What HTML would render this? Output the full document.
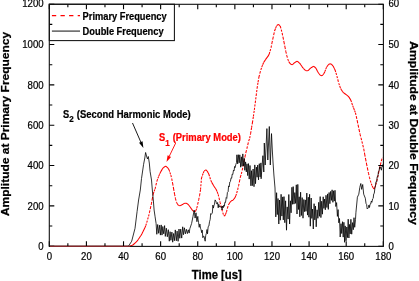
<!DOCTYPE html>
<html><head><meta charset="utf-8"><style>
html,body{margin:0;padding:0;background:#fff;width:419px;height:281px;overflow:hidden}
svg{display:block;will-change:transform}
text{font-family:"Liberation Sans",sans-serif}
</style></head><body>
<svg width="419" height="281" viewBox="0 0 419 281">
<rect width="419" height="281" fill="#fff"/>
<g font-size="9.6" fill="#000" stroke="#000" stroke-width="0.2">
<text transform="translate(49.30 260.20) scale(1 1.1)" text-anchor="middle">0</text><text transform="translate(86.41 260.20) scale(1 1.1)" text-anchor="middle">20</text><text transform="translate(123.52 260.20) scale(1 1.1)" text-anchor="middle">40</text><text transform="translate(160.63 260.20) scale(1 1.1)" text-anchor="middle">60</text><text transform="translate(197.74 260.20) scale(1 1.1)" text-anchor="middle">80</text><text transform="translate(234.86 260.20) scale(1 1.1)" text-anchor="middle">100</text><text transform="translate(271.97 260.20) scale(1 1.1)" text-anchor="middle">120</text><text transform="translate(309.08 260.20) scale(1 1.1)" text-anchor="middle">140</text><text transform="translate(346.19 260.20) scale(1 1.1)" text-anchor="middle">160</text><text transform="translate(383.30 260.20) scale(1 1.1)" text-anchor="middle">180</text><text transform="translate(43.60 250.10) scale(1 1.1)" text-anchor="end">0</text><text transform="translate(43.60 209.77) scale(1 1.1)" text-anchor="end">200</text><text transform="translate(43.60 169.43) scale(1 1.1)" text-anchor="end">400</text><text transform="translate(43.60 129.10) scale(1 1.1)" text-anchor="end">600</text><text transform="translate(43.60 88.77) scale(1 1.1)" text-anchor="end">800</text><text transform="translate(43.60 48.43) scale(1 1.1)" text-anchor="end">1000</text><text transform="translate(43.60 7.40) scale(1 1.1)" text-anchor="end">1200</text><text transform="translate(388.50 250.10) scale(1 1.1)">0</text><text transform="translate(388.50 209.77) scale(1 1.1)">10</text><text transform="translate(388.50 169.43) scale(1 1.1)">20</text><text transform="translate(388.50 129.10) scale(1 1.1)">30</text><text transform="translate(388.50 88.77) scale(1 1.1)">40</text><text transform="translate(388.50 48.43) scale(1 1.1)">50</text><text transform="translate(388.50 7.40) scale(1 1.1)">60</text>
</g>
<g font-weight="bold" font-size="12" fill="#000" stroke="#000" stroke-width="0.25">
<text transform="translate(8.5 124.0) rotate(-90) scale(1.07 1)" text-anchor="middle" font-size="11.2">Amplitude at Primary Frequency</text>
<text transform="translate(410.2 133) rotate(90) scale(1.08 1)" text-anchor="middle" font-size="11.3">Amplitude at Double Frequency</text>
<text transform="translate(216.80 278.60) scale(1 1.08)" text-anchor="middle" font-size="11.3">Time [us]</text>
</g>
<path d="M49.30 246.20L50.23 246.20M50.23 246.20L51.16 246.20M51.16 246.20L52.08 246.20M52.08 246.20L53.01 246.20M53.01 246.20L53.94 246.20M53.94 246.20L54.87 246.20M54.87 246.20L55.79 246.20M55.79 246.20L56.72 246.20M56.72 246.20L57.65 246.20M57.65 246.20L58.58 246.20M58.58 246.20L59.51 246.20M59.51 246.20L60.43 246.20M60.43 246.20L61.36 246.20M61.36 246.20L62.29 246.20M62.29 246.20L63.22 246.20M63.22 246.20L64.14 246.20M64.14 246.20L65.07 246.20M65.07 246.20L66.00 246.20M66.00 246.20L66.93 246.20M66.93 246.20L67.86 246.20M67.86 246.20L68.78 246.20M68.78 246.20L69.71 246.20M69.71 246.20L70.64 246.20M70.64 246.20L71.57 246.20M71.57 246.20L72.49 246.20M72.49 246.20L73.42 246.20M73.42 246.20L74.35 246.20M74.35 246.20L75.28 246.20M75.28 246.20L76.21 246.20M76.21 246.20L77.13 246.20M77.13 246.20L78.06 246.20M78.06 246.20L78.99 246.20M78.99 246.20L79.92 246.20M79.92 246.20L80.84 246.20M80.84 246.20L81.77 246.20M81.77 246.20L82.70 246.20M82.70 246.20L83.63 246.20M83.63 246.20L84.56 246.20M84.56 246.20L85.48 246.20M85.48 246.20L86.41 246.20M86.41 246.20L87.34 246.20M87.34 246.20L88.27 246.20M88.27 246.20L89.19 246.20M89.19 246.20L90.12 246.20M90.12 246.20L91.05 246.20M91.05 246.20L91.98 246.20M91.98 246.20L92.91 246.20M92.91 246.20L93.83 246.20M93.83 246.20L94.76 246.20M94.76 246.20L95.69 246.20M95.69 246.20L96.62 246.20M96.62 246.20L97.54 246.20M97.54 246.20L98.47 246.20M98.47 246.20L99.40 246.20M99.40 246.20L100.33 246.20M100.33 246.20L101.26 246.20M101.26 246.20L102.18 246.20M102.18 246.20L103.11 246.20M103.11 246.20L104.04 246.20M104.04 246.20L104.97 246.20M104.97 246.20L105.89 246.20M105.89 246.20L106.82 246.20M106.82 246.20L107.75 246.20M107.75 246.20L108.68 246.20M108.68 246.20L109.61 246.20M109.61 246.20L110.53 246.20M110.53 246.20L111.46 246.20M111.46 246.20L112.39 246.20M112.39 246.20L113.32 246.20M113.32 246.20L114.24 246.20M114.24 246.20L115.17 246.20M115.17 246.20L116.10 246.20M116.10 246.20L117.03 246.20M117.03 246.20L117.96 246.20M117.96 246.20L118.88 246.20M118.88 246.20L119.81 246.20M119.81 246.20L120.74 246.20M120.74 246.20L121.67 246.20M121.67 246.20L122.59 246.20M122.59 246.20L123.52 246.20M123.52 246.20L124.45 246.20M124.45 246.20L125.38 246.20M125.38 246.20L126.31 246.20M126.31 246.20L127.23 246.20M127.23 246.20L128.16 246.20M128.16 246.20L129.09 246.20M129.09 246.20L130.02 246.06M130.02 246.06L130.94 245.74M130.94 245.74L131.87 245.42M131.87 245.42L132.80 245.10M132.80 245.10L133.73 244.26M133.73 244.26L134.66 243.42M134.66 243.42L135.58 242.58M135.58 242.58L136.51 241.73M136.51 241.73L137.44 240.70M137.44 240.70L138.37 239.31M138.37 239.31L139.29 237.93M139.29 237.93L140.22 236.55M140.22 236.55L141.15 235.17M141.15 235.17L142.08 233.43M142.08 233.43L143.01 231.55M143.01 231.55L143.93 229.67M143.93 229.67L144.86 227.80M144.86 227.80L145.79 225.67M145.79 225.67L146.72 222.57M146.72 222.57L147.64 219.46M147.64 219.46L148.57 216.36M148.57 216.36L149.50 212.40M149.50 212.40L150.43 208.16M150.43 208.16L151.36 203.92M151.36 203.92L152.28 198.93M152.28 198.93L153.21 193.99M153.21 193.99L154.14 191.39M154.14 191.39L155.07 188.79M155.07 188.79L155.99 184.99M155.99 184.99L156.92 181.15M156.92 181.15L157.85 178.41M157.85 178.41L158.78 176.14M158.78 176.14L159.71 173.87M159.71 173.87L160.63 171.98M160.63 171.98L161.56 170.38M161.56 170.38L162.49 168.78M162.49 168.78L163.42 167.62M163.42 167.62L164.34 166.99M164.34 166.99L165.27 166.36M165.27 166.36L166.20 166.39M166.20 166.39L167.13 167.28M167.13 167.28L168.06 168.18M168.06 168.18L168.98 169.64M168.98 169.64L169.91 172.39M169.91 172.39L170.84 175.14M170.84 175.14L171.77 178.73M171.77 178.73L172.69 183.61M172.69 183.61L173.62 188.86M173.62 188.86L174.55 194.10M174.55 194.10L175.48 198.56M175.48 198.56L176.41 202.14M176.41 202.14L177.33 203.77M177.33 203.77L178.26 205.13M178.26 205.13L179.19 205.54M179.19 205.54L180.12 205.84M180.12 205.84L181.04 205.33M181.04 205.33L181.97 204.82M181.97 204.82L182.90 204.24M182.90 204.24L183.83 203.64M183.83 203.64L184.76 203.20M184.76 203.20L185.68 203.20M185.68 203.20L186.61 203.38M186.61 203.38L187.54 203.93M187.54 203.93L188.47 204.80M188.47 204.80L189.39 205.98M189.39 205.98L190.32 207.25M190.32 207.25L191.25 208.59M191.25 208.59L192.18 209.84M192.18 209.84L193.11 211.02M193.11 211.02L194.03 211.59M194.03 211.59L194.96 211.54M194.96 211.54L195.89 210.61M195.89 210.61L196.82 208.05M196.82 208.05L197.74 204.06M197.74 204.06L198.67 199.80M198.67 199.80L199.60 195.30M199.60 195.30L200.53 189.66M200.53 189.66L201.46 178.34M201.46 178.34L202.38 175.48M202.38 175.48L203.31 173.04M203.31 173.04L204.24 170.68M204.24 170.68L205.17 170.29M205.17 170.29L206.09 169.89M206.09 169.89L207.02 170.93M207.02 170.93L207.95 172.38M207.95 172.38L208.88 174.28M208.88 174.28L209.81 177.22M209.81 177.22L210.73 180.16M210.73 180.16L211.66 182.20M211.66 182.20L212.59 183.87M212.59 183.87L213.52 185.55M213.52 185.55L214.44 186.95M214.44 186.95L215.37 188.33M215.37 188.33L216.30 189.70M216.30 189.70L217.23 191.92M217.23 191.92L218.16 194.36M218.16 194.36L219.08 198.03M219.08 198.03L220.01 202.14M220.01 202.14L220.94 205.80M220.94 205.80L221.87 209.43M221.87 209.43L222.79 212.68M222.79 212.68L223.72 215.60M223.72 215.60L224.65 215.92M224.65 215.92L225.58 214.16M225.58 214.16L226.51 211.94M226.51 211.94L227.43 208.07M227.43 208.07L228.36 205.10M228.36 205.10L229.29 203.55M229.29 203.55L230.22 202.01M230.22 202.01L231.14 201.01M231.14 201.01L232.07 200.60M232.07 200.60L233.00 200.20M233.00 200.20L233.93 199.03M233.93 199.03L234.86 197.86M234.86 197.86L235.78 195.83M235.78 195.83L236.71 193.00M236.71 193.00L237.64 189.76M237.64 189.76L238.57 185.84M238.57 185.84L239.49 181.30M239.49 181.30L240.42 176.92M240.42 176.92L241.35 173.80M241.35 173.80L242.28 169.91M242.28 169.91L243.21 165.63M243.21 165.63L244.13 160.86M244.13 160.86L245.06 156.40M245.06 156.40L245.99 152.13M245.99 152.13L246.92 148.35M246.92 148.35L247.84 144.53M247.84 144.53L248.77 140.88M248.77 140.88L249.70 138.10M249.70 138.10L250.63 133.34M250.63 133.34L251.56 127.71M251.56 127.71L252.48 122.39M252.48 122.39L253.41 116.39M253.41 116.39L254.34 109.84M254.34 109.84L255.27 102.72M255.27 102.72L256.19 95.47M256.19 95.47L257.12 88.17M257.12 88.17L258.05 82.09M258.05 82.09L258.98 76.85M258.98 76.85L259.91 73.10M259.91 73.10L260.83 69.80M260.83 69.80L261.76 67.07M261.76 67.07L262.69 64.71M262.69 64.71L263.62 62.56M263.62 62.56L264.54 61.11M264.54 61.11L265.47 59.67M265.47 59.67L266.40 58.34M266.40 58.34L267.33 57.13M267.33 57.13L268.26 55.91M268.26 55.91L269.18 53.99M269.18 53.99L270.11 51.06M270.11 51.06L271.04 47.54M271.04 47.54L271.97 42.99M271.97 42.99L272.89 38.54M272.89 38.54L273.82 34.46M273.82 34.46L274.75 30.47M274.75 30.47L275.68 28.08M275.68 28.08L276.61 25.70M276.61 25.70L277.53 25.00M277.53 25.00L278.46 24.30M278.46 24.30L279.39 25.24M279.39 25.24L280.32 26.46M280.32 26.46L281.24 29.60M281.24 29.60L282.17 33.22M282.17 33.22L283.10 37.59M283.10 37.59L284.03 42.38M284.03 42.38L284.96 47.02M284.96 47.02L285.88 51.57M285.88 51.57L286.81 55.57M286.81 55.57L287.74 58.89M287.74 58.89L288.67 61.45M288.67 61.45L289.59 62.84M289.59 62.84L290.52 64.04M290.52 64.04L291.45 64.60M291.45 64.60L292.38 64.73M292.38 64.73L293.31 63.85M293.31 63.85L294.23 62.96M294.23 62.96L295.16 62.34M295.16 62.34L296.09 61.73M296.09 61.73L297.02 61.12M297.02 61.12L297.94 61.69M297.94 61.69L298.87 62.55M298.87 62.55L299.80 63.41M299.80 63.41L300.73 64.68M300.73 64.68L301.66 66.05M301.66 66.05L302.58 67.43M302.58 67.43L303.51 68.51M303.51 68.51L304.44 69.44M304.44 69.44L305.37 70.37M305.37 70.37L306.29 70.80M306.29 70.80L307.22 70.80M307.22 70.80L308.15 70.55M308.15 70.55L309.08 69.62M309.08 69.62L310.01 68.69M310.01 68.69L310.93 67.82M310.93 67.82L311.86 67.26M311.86 67.26L312.79 66.69M312.79 66.69L313.72 66.29M313.72 66.29L314.64 67.01M314.64 67.01L315.57 67.72M315.57 67.72L316.50 69.33M316.50 69.33L317.43 71.23M317.43 71.23L318.36 72.80M318.36 72.80L319.28 74.02M319.28 74.02L320.21 75.14M320.21 75.14L321.14 75.45M321.14 75.45L322.07 75.76M322.07 75.76L322.99 74.75M322.99 74.75L323.92 73.53M323.92 73.53L324.85 71.68M324.85 71.68L325.78 69.16M325.78 69.16L326.71 66.93M326.71 66.93L327.63 65.71M327.63 65.71L328.56 64.48M328.56 64.48L329.49 64.04M329.49 64.04L330.42 63.73M330.42 63.73L331.34 64.14M331.34 64.14L332.27 65.07M332.27 65.07L333.20 66.21M333.20 66.21L334.13 68.11M334.13 68.11L335.06 70.01M335.06 70.01L335.98 72.81M335.98 72.81L336.91 76.04M336.91 76.04L337.84 79.76M337.84 79.76L338.77 83.10M338.77 83.10L339.69 86.01M339.69 86.01L340.62 88.40M340.62 88.40L341.55 89.99M341.55 89.99L342.48 91.51M342.48 91.51L343.41 92.58M343.41 92.58L344.33 93.29M344.33 93.29L345.26 93.99M345.26 93.99L346.19 94.69M346.19 94.69L347.12 95.39M347.12 95.39L348.04 96.08M348.04 96.08L348.97 97.11M348.97 97.11L349.90 98.63M349.90 98.63L350.83 100.19M350.83 100.19L351.76 103.03M351.76 103.03L352.68 105.64M352.68 105.64L353.61 108.03M353.61 108.03L354.54 110.46M354.54 110.46L355.47 112.89M355.47 112.89L356.39 116.81M356.39 116.81L357.32 121.22M357.32 121.22L358.25 125.64M358.25 125.64L359.18 130.06M359.18 130.06L360.11 134.31M360.11 134.31L361.03 137.97M361.03 137.97L361.96 141.64M361.96 141.64L362.89 145.36M362.89 145.36L363.82 149.26M363.82 149.26L364.74 154.49M364.74 154.49L365.67 159.30M365.67 159.30L366.60 164.08M366.60 164.08L367.53 168.66M367.53 168.66L368.46 173.20M368.46 173.20L369.38 177.07M369.38 177.07L370.31 180.68M370.31 180.68L371.24 183.59M371.24 183.59L372.17 185.98M372.17 185.98L373.09 187.77M373.09 187.77L374.02 188.96M374.02 188.96L374.95 187.16M374.95 187.16L375.88 184.63M375.88 184.63L376.81 181.01M376.81 181.01L377.73 177.16M377.73 177.16L378.66 172.61M378.66 172.61L379.59 168.14M379.59 168.14L380.52 164.33M380.52 164.33L381.44 160.54M381.44 160.54L382.37 157.11" fill="none" stroke="#f00" stroke-width="1.05" stroke-dasharray="2.1 1.3"/>
<polyline points="49.3,246.2 128.5,246.2 131.7,241.2 135.0,228.4 137.1,211.4 138.6,200.0 140.3,190.0 141.5,178.6 143.6,164.3 144.8,158.0 145.6,152.5 146.8,157.0 147.5,159.0 148.3,156.5 149.3,163.0 150.1,171.5 151.5,180.0 152.5,192.0 153.3,200.0 154.1,210.0 155.1,216.8 156.1,223.5 156.8,234.3 157.7,224.5 158.7,233.3 159.6,225.2 160.4,235.1 161.2,224.9 162.0,235.1 162.8,226.5 163.7,233.8 164.6,225.6 165.3,236.4 166.3,228.2 167.3,236.8 168.3,229.7 169.3,241.2 170.1,231.7 170.9,240.3 171.9,232.1 172.7,242.2 173.6,233.5 174.4,240.7 175.3,229.9 176.3,240.8 177.1,231.1 178.1,241.3 179.0,229.0 179.8,238.3 180.7,229.1 181.7,238.1 182.7,226.8 183.5,234.7 184.4,227.8 185.4,233.8 186.4,229.3 187.4,233.6 188.3,229.8 189.2,233.1 189.8,228.8 191.6,223.5 193.0,216.4 194.2,210.1 195.1,218.1 196.0,212.8 196.9,221.7 197.8,216.4 198.0,219.0 198.6,222.7 199.2,227.3 199.9,224.0 200.5,228.2 201.1,229.8 201.7,232.7 202.2,230.1 202.8,237.7 203.5,236.1 204.1,236.4 204.6,239.2 205.2,241.2 205.7,235.6 206.4,233.3 207.0,229.5 207.5,233.8 208.2,226.5 208.9,226.1 209.5,221.8 210.2,219.4 210.7,213.6 211.2,214.4 211.8,213.6 212.3,213.1 212.9,205.1 213.4,208.1 213.9,205.8 214.5,204.2 215.1,199.9 215.8,201.0 216.4,202.7 217.0,204.1 217.6,202.5 218.2,207.8 218.8,204.3 219.4,207.1 220.1,206.3 220.8,207.2 221.4,206.5 222.1,210.0 222.6,206.0 223.2,207.8 223.8,205.2 224.3,206.3 224.9,202.2 225.5,202.4 226.2,197.6 226.8,198.3 227.4,192.5 228.1,191.8 228.6,185.9 229.2,186.8 229.8,182.0 230.4,181.5 231.1,177.8 231.7,178.2 232.2,174.1 232.8,174.5 233.5,170.1 234.1,170.8 234.6,166.5 235.1,167.6 235.8,164.6 236.5,162.5 236.9,154.8 237.7,163.9 238.3,154.7 239.2,162.8 239.8,154.8 240.7,167.2 241.4,156.8 242.1,166.2 242.8,153.9 243.5,165.9 244.2,158.3 244.8,170.3 245.6,161.9 246.3,171.9 247.0,163.8 247.7,175.6 248.5,163.6 249.2,179.1 250.0,165.5 250.9,185.8 251.5,170.7 252.3,185.7 253.1,169.0 254.0,186.7 254.8,164.9 255.5,183.7 256.4,167.1 257.1,177.2 257.7,165.1 258.5,179.9 259.3,163.7 260.1,176.9 260.9,162.9 261.1,178.8 262.9,155.7 263.8,172.0 264.3,143.0 265.2,165.0 266.9,128.6 267.8,160.0 269.3,126.5 270.3,165.0 271.5,133.6 272.3,150.0 273.0,162.0 273.9,175.0 275.0,188.0 275.8,216.9 276.6,192.7 277.3,214.6 278.0,198.5 278.8,224.0 279.5,200.0 280.3,220.2 281.1,194.3 281.9,216.1 282.7,196.9 283.3,219.9 284.0,196.6 284.8,222.7 285.6,200.8 286.5,230.2 287.2,206.9 288.1,219.1 288.8,194.5 289.6,224.0 290.4,200.8 291.1,212.8 291.9,187.3 292.6,204.3 293.2,186.6 294.0,204.1 294.8,192.6 295.6,203.4 296.3,184.8 297.0,214.0 297.8,184.4 298.5,209.5 299.2,196.8 299.8,216.8 300.6,192.2 301.4,215.5 302.2,197.6 303.0,218.2 303.8,199.5 304.6,211.7 305.3,199.9 306.0,211.3 306.8,193.1 307.5,215.1 308.3,197.2 308.9,217.2 309.6,194.3 310.3,226.2 311.2,198.0 311.8,218.4 312.5,209.1 313.3,229.0 314.1,203.7 314.8,219.9 315.5,206.1 316.2,226.8 317.1,209.8 317.9,218.3 318.7,202.3 319.4,216.3 320.2,196.6 320.9,217.6 321.7,201.2 322.4,214.2 323.2,196.8 323.9,208.4 324.6,199.0 325.3,209.8 326.0,195.3 326.9,207.5 327.6,193.9 328.3,209.4 329.1,192.5 329.9,203.7 330.6,191.4 331.4,200.4 332.1,189.8 332.9,202.3 333.6,190.8 334.3,201.1 335.0,190.3 335.8,206.5 336.6,202.6 337.4,216.4 338.1,209.6 338.8,222.8 339.5,218.5 340.2,237.0 341.0,223.7 341.7,233.5 342.5,221.7 343.2,237.1 343.9,222.3 344.6,242.3 345.2,225.9 346.0,240.8 346.8,227.0 347.5,237.6 348.2,219.2 348.9,238.0 349.6,224.4 350.2,233.9 350.9,219.3 351.7,234.2 352.6,222.6 353.3,229.7 354.0,217.7 354.7,227.3 355.5,219.4 355.9,212.8 357.4,197.2 358.8,194.2 359.8,187.4 360.8,183.5 361.7,189.4 362.7,184.5 363.7,194.2 365.3,198.2 366.0,203.4 366.6,204.4 367.2,209.0 367.9,208.3 368.4,207.7 368.9,205.1 369.5,207.5 370.0,204.3 370.7,204.0 371.3,201.1 371.9,202.3 372.6,198.9 373.2,198.4 373.7,194.0 374.3,193.2 374.9,188.1 375.5,185.4 376.0,181.6 376.7,181.9 377.2,176.7 377.9,176.6 378.4,171.7 379.0,171.2 379.7,166.9 380.2,168.3 380.7,167.4 381.4,170.2 382.0,166.2 382.5,166.5 383.3,163.9" fill="none" stroke="#000" stroke-width="0.8" stroke-linejoin="round"/>
<rect x="49.3" y="4.2" width="125.10000000000001" height="36.4" fill="none" stroke="#111" stroke-width="1.05"/>
<path d="M49.30 246.2v-5M49.30 4.2v5M67.86 246.2v-3M67.86 4.2v3M86.41 246.2v-5M86.41 4.2v5M104.97 246.2v-3M104.97 4.2v3M123.52 246.2v-5M123.52 4.2v5M142.08 246.2v-3M142.08 4.2v3M160.63 246.2v-5M160.63 4.2v5M179.19 246.2v-3M179.19 4.2v3M197.74 246.2v-5M197.74 4.2v5M216.30 246.2v-3M216.30 4.2v3M234.86 246.2v-5M234.86 4.2v5M253.41 246.2v-3M253.41 4.2v3M271.97 246.2v-5M271.97 4.2v5M290.52 246.2v-3M290.52 4.2v3M309.08 246.2v-5M309.08 4.2v5M327.63 246.2v-3M327.63 4.2v3M346.19 246.2v-5M346.19 4.2v5M364.74 246.2v-3M364.74 4.2v3M383.30 246.2v-5M383.30 4.2v5M49.3 246.20h5M383.3 246.20h-5M49.3 226.03h3M383.3 226.03h-3M49.3 205.87h5M383.3 205.87h-5M49.3 185.70h3M383.3 185.70h-3M49.3 165.53h5M383.3 165.53h-5M49.3 145.37h3M383.3 145.37h-3M49.3 125.20h5M383.3 125.20h-5M49.3 105.03h3M383.3 105.03h-3M49.3 84.87h5M383.3 84.87h-5M49.3 64.70h3M383.3 64.70h-3M49.3 44.53h5M383.3 44.53h-5M49.3 24.37h3M383.3 24.37h-3M49.3 4.20h5M383.3 4.20h-5" stroke="#000" stroke-width="1.1" fill="none"/>
<rect x="49.3" y="4.3" width="334.1" height="242.1" fill="none" stroke="#111" stroke-width="1.1"/>
<path d="M50 246.4H130" stroke="#85282c" stroke-width="1.05"/>
<path d="M51.9 15.6H80" stroke="#f00" stroke-width="1.05" stroke-dasharray="4.3 4.3"/>
<path d="M51.9 31.1H80" stroke="#444" stroke-width="1.3"/>
<g font-weight="bold" font-size="9.3" fill="#000" stroke="#000" stroke-width="0.2">
<text transform="translate(82.60 19.80) scale(1 1.08)">Primary Frequency</text>
<text transform="translate(82.60 35.10) scale(1 1.08)">Double Frequency</text>
<text transform="translate(63.00 117.60) scale(1 1.08)">S<tspan font-size="8" dy="4.5">2</tspan><tspan dy="-4.5" dx="0.6" font-size="9.45"> (Second Harmonic Mode)</tspan></text>
<text transform="translate(159.00 140.70) scale(1 1.08)" fill="#f00" stroke="#f00">S<tspan font-size="8" dy="4.5">1</tspan><tspan dy="-4.5" dx="0.4" font-size="9.4"> (Primary Mode)</tspan></text>
</g>
<path d="M132.5 123L140.80 142.04" stroke="#000" stroke-width="0.9"/><path d="M143.4 148L139.06 142.80L142.54 141.28Z" fill="#000"/>
<path d="M175.7 143L169.33 156.15" stroke="#f00" stroke-width="0.9"/><path d="M166.5 162L167.62 155.32L171.04 156.98Z" fill="#f00"/>
</svg>
</body></html>
